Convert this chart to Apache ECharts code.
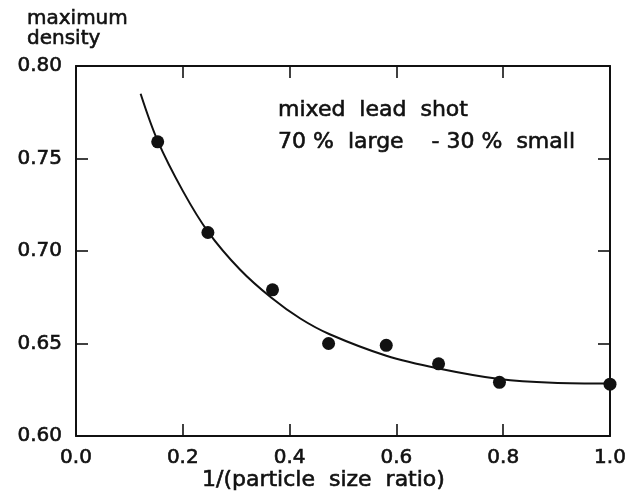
<!DOCTYPE html>
<html>
<head>
<meta charset="utf-8">
<script src="https://cdn.jsdelivr.net/npm/echarts@6/dist/echarts.min.js"></script>
<style>
html,body{margin:0;padding:0;background:#fff;}
#chart{width:630px;height:500px;}
</style>
</head>
<body>
<div id="chart"></div>
<script>
// Measured points: [1/(particle size ratio), maximum density]
var pointX = [0.153, 0.247, 0.368, 0.473, 0.581, 0.679, 0.793, 1.0];
var pointY = [0.759, 0.710, 0.679, 0.650, 0.649, 0.639, 0.629, 0.628];
// Hand-drawn fitted curve
var curveX = [0.121, 0.153, 0.200, 0.247, 0.307, 0.366, 0.420, 0.475, 0.581, 0.679, 0.793, 0.892, 1.0];
var curveY = [0.785, 0.7595, 0.7325, 0.7105, 0.690, 0.6747, 0.6635, 0.655, 0.6434, 0.6365, 0.6308, 0.6288, 0.6284];
var xTicks = [0.0, 0.2, 0.4, 0.6, 0.8, 1.0];
var yTicks = [0.60, 0.65, 0.70, 0.75, 0.80];
var yAxisTitle = ['maximum', 'density'];
var xAxisTitle = '1/(particle  size  ratio)';
var noteLines = ['mixed  lead  shot', '70 %  large    - 30 %  small'];

var FONT = '"DejaVu Sans", sans-serif';
var INK = '#111';

function zip(a, b) { return a.map(function (v, i) { return [v, b[i]]; }); }
function axisLine() { return {show: true, onZero: false, lineStyle: {color: INK, width: 2}}; }
function tick() { return {show: true, inside: true, length: 12, lineStyle: {color: INK, width: 1.6}}; }
function txt(s, x, y, size) {
  return {type: 'text', style: {text: s, x: x, y: y, font: size + 'px ' + FONT, fill: INK,
    stroke: INK, lineWidth: 0.6, align: 'left', verticalAlign: 'middle'}};
}

var chart = echarts.init(document.getElementById('chart'), null, {renderer: 'canvas'});

var option = {
  backgroundColor: '#fff',
  animation: false,
  grid: {left: 76, right: 20, top: 66, bottom: 64, containLabel: false},
  xAxis: [{
    type: 'value', position: 'bottom', min: xTicks[0], max: xTicks[xTicks.length - 1], interval: 0.2,
    axisLine: axisLine(), axisTick: tick(), splitLine: {show: false},
    axisLabel: {color: INK, fontFamily: FONT, fontSize: 20, margin: 12,
      textBorderColor: INK, textBorderWidth: 0.6,
      formatter: function (v) { return v.toFixed(1); }}
  }, {
    type: 'value', position: 'top', min: xTicks[0], max: xTicks[xTicks.length - 1], interval: 0.2,
    axisLine: axisLine(), axisTick: tick(), splitLine: {show: false}, axisLabel: {show: false}
  }],
  yAxis: [{
    type: 'value', position: 'left', min: yTicks[0], max: yTicks[yTicks.length - 1], interval: 0.05,
    axisLine: axisLine(), axisTick: tick(), splitLine: {show: false},
    axisLabel: {color: INK, fontFamily: FONT, fontSize: 20, margin: 14,
      textBorderColor: INK, textBorderWidth: 0.6,
      formatter: function (v) { return v.toFixed(2); }}
  }, {
    type: 'value', position: 'right', min: yTicks[0], max: yTicks[yTicks.length - 1], interval: 0.05,
    axisLine: axisLine(), axisTick: tick(), splitLine: {show: false}, axisLabel: {show: false}
  }],
  series: [{
    type: 'line', data: zip(curveX, curveY), smooth: 0.35, showSymbol: false,
    lineStyle: {color: INK, width: 2}, z: 2
  }, {
    type: 'scatter', data: zip(pointX, pointY), symbol: 'circle', symbolSize: 13,
    itemStyle: {color: INK, opacity: 1}, z: 3
  }],
  graphic: [
    txt(yAxisTitle[0], 27, 19, 20),
    txt(yAxisTitle[1], 27, 39, 20),
    txt(xAxisTitle, 202, 480, 22),
    txt(noteLines[0], 278, 110, 22),
    txt(noteLines[1], 278, 142, 22)
  ]
};
chart.setOption(option);
</script>
</body>
</html>
